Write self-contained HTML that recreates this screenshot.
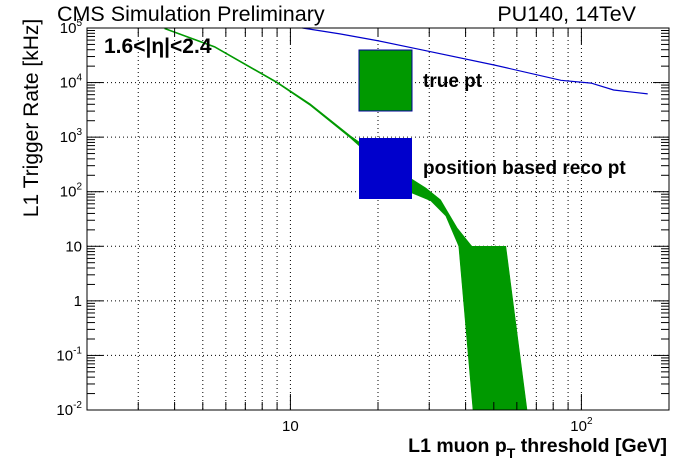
<!DOCTYPE html>
<html><head><meta charset="utf-8"><style>
html,body{margin:0;padding:0;background:#fff;}
svg{display:block;font-family:"Liberation Sans",sans-serif;}
</style></head><body>
<svg id="chart" width="696" height="472" viewBox="0 0 696 472" xmlns="http://www.w3.org/2000/svg">
<g id="grid"></g>
<g id="series"></g>
<g id="axes"></g>
<rect x="87" y="28" width="582" height="382" fill="none" stroke="#000" stroke-width="1"/>
<text x="57" y="21" font-size="21.5">CMS Simulation Preliminary</text>
<text x="636" y="21" font-size="21.5" text-anchor="end">PU140, 14TeV</text>
<text x="104" y="53" font-size="21" font-weight="bold">1.6&lt;|η|&lt;2.4</text>
<text transform="translate(38,118) rotate(-90)" font-size="21" text-anchor="middle">L1 Trigger Rate [kHz]</text>
<text x="667" y="452" font-size="19.5" font-weight="bold" text-anchor="end">L1 muon p<tspan font-size="14" dy="6">T</tspan><tspan dy="-6"> threshold [GeV]</tspan></text>
<g>
<rect x="359" y="50" width="53" height="61" fill="#009900" stroke="#000099" stroke-width="1"/>
<text x="423" y="87" font-size="19" font-weight="bold">true pt</text>
<rect x="359" y="138" width="53" height="61" fill="#0000cc"/>
<text x="423" y="174" font-size="19" font-weight="bold">position based reco pt</text>
</g>
</svg>
<script>
// data
const upperPt   = [3.7, 5.5, 9.0, 11.7, 16.1, 26.1, 29.2, 32.8, 37.4, 42.0, 55.0, 65.0];
const upperRate = [1e5, 4.6e4, 1.03e4, 4.1e3, 1.05e3, 171, 117, 71, 21.7, 10, 10, 0.01];
const lowerPt   = [3.7, 5.5, 9.0, 11.7, 16.1, 26.1, 30.4, 34.2, 37.9, 42.4];
const lowerRate = [9.6e4, 4.4e4, 9.8e3, 3.8e3, 960, 95, 68, 36, 10, 0.01];
const bluePt    = [11.0, 14.8, 20.1, 28.1, 50.1, 85, 108, 129, 169];
const blueRate  = [1e5, 7.8e4, 5.8e4, 4.0e4, 2.1e4, 1.1e4, 9.8e3, 7.3e3, 6.2e3];
const yTickExp  = [-2, -1, 0, 1, 2, 3, 4, 5];
const xTickVals = [10, 100];

const X0=87, X1=669, Y0=410, Y1=28;
const XMIN=Math.log10(2), XMAX=Math.log10(200), YMIN=-2, YMAX=5;
function sx(v){return X0+(Math.log10(v)-XMIN)/(XMAX-XMIN)*(X1-X0);}
function sy(v){const l=Math.max(YMIN,Math.min(YMAX,Math.log10(v)));return Y0-(l-YMIN)/(YMAX-YMIN)*(Y0-Y1);}
const NS="http://www.w3.org/2000/svg";
function mk(tag,attrs,parent){const e=document.createElementNS(NS,tag);for(const k in attrs)e.setAttribute(k,attrs[k]);parent.appendChild(e);return e;}
const grid=document.getElementById('grid'),axes=document.getElementById('axes'),series=document.getElementById('series');

for(let d=0;d<3;d++){for(let m=1;m<10;m++){const v=m*Math.pow(10,d);if(v<2||v>200)continue;const x=sx(v);
 if(v>2&&v<200){const g=mk('line',{x1:x,x2:x,y1:Y1,y2:Y0,stroke:'#000','stroke-width':1,'stroke-dasharray':'1,3'},grid);
 
 }
 const len=(m===1)?16:8;
 const t1=mk('line',{x1:x,x2:x,y1:Y0,y2:Y0-len,stroke:'#000'},axes);
 
 
 const t2=mk('line',{x1:x,x2:x,y1:Y1,y2:Y1+len,stroke:'#000'},axes);
 
 
}}
xTickVals.forEach(v=>{const t=mk('text',{x:sx(v),y:431,'font-size':15,'text-anchor':'middle'},axes);
 
 
 if(v===10)t.textContent='10';else{t.textContent='10';const s=mk('tspan',{dy:-7,'font-size':10},t);s.textContent='2';}
});
for(let e=YMIN;e<=YMAX;e++){const y=sy(Math.pow(10,e));
 if(e>YMIN&&e<YMAX){const g=mk('line',{x1:X0,x2:X1,y1:y,y2:y,stroke:'#000','stroke-dasharray':'1,3'},grid);
 
 }
 [[X0,1],[X1,-1]].forEach(([ax,dir])=>{
  const t=mk('line',{x1:ax,x2:ax+dir*16,y1:y,y2:y,stroke:'#000'},axes);
  
  
  if(e<YMAX){for(let m=2;m<10;m++){const yy=sy(m*Math.pow(10,e));
   const mt=mk('line',{x1:ax,x2:ax+dir*8,y1:yy,y2:yy,stroke:'#000'},axes);
   
   }}
 });
}
yTickExp.forEach(e=>{const y=sy(Math.pow(10,e));
 const t=mk('text',{x:82,y:y+5,'font-size':15,'text-anchor':'end'},axes);
 
 
 if(e===0)t.textContent='1';else if(e===1)t.textContent='10';
 else{t.textContent='10';const s=mk('tspan',{dy:-7,'font-size':10},t);s.textContent=String(e);}
});
let pts=[];
for(let i=0;i<upperPt.length;i++)pts.push(sx(upperPt[i]).toFixed(1)+','+sy(upperRate[i]).toFixed(1));
for(let i=lowerPt.length-1;i>=0;i--)pts.push(sx(lowerPt[i]).toFixed(1)+','+sy(lowerRate[i]).toFixed(1));
const band=mk('polygon',{points:pts.join(' '),fill:'#009900',stroke:'#009900','stroke-width':0.6},series);


const bp=bluePt.map((v,i)=>sx(v).toFixed(1)+','+sy(blueRate[i]).toFixed(1)).join(' ');
const bl=mk('polyline',{points:bp,fill:'none',stroke:'#0000cc','stroke-width':1.2},series);


</script>
</body></html>
